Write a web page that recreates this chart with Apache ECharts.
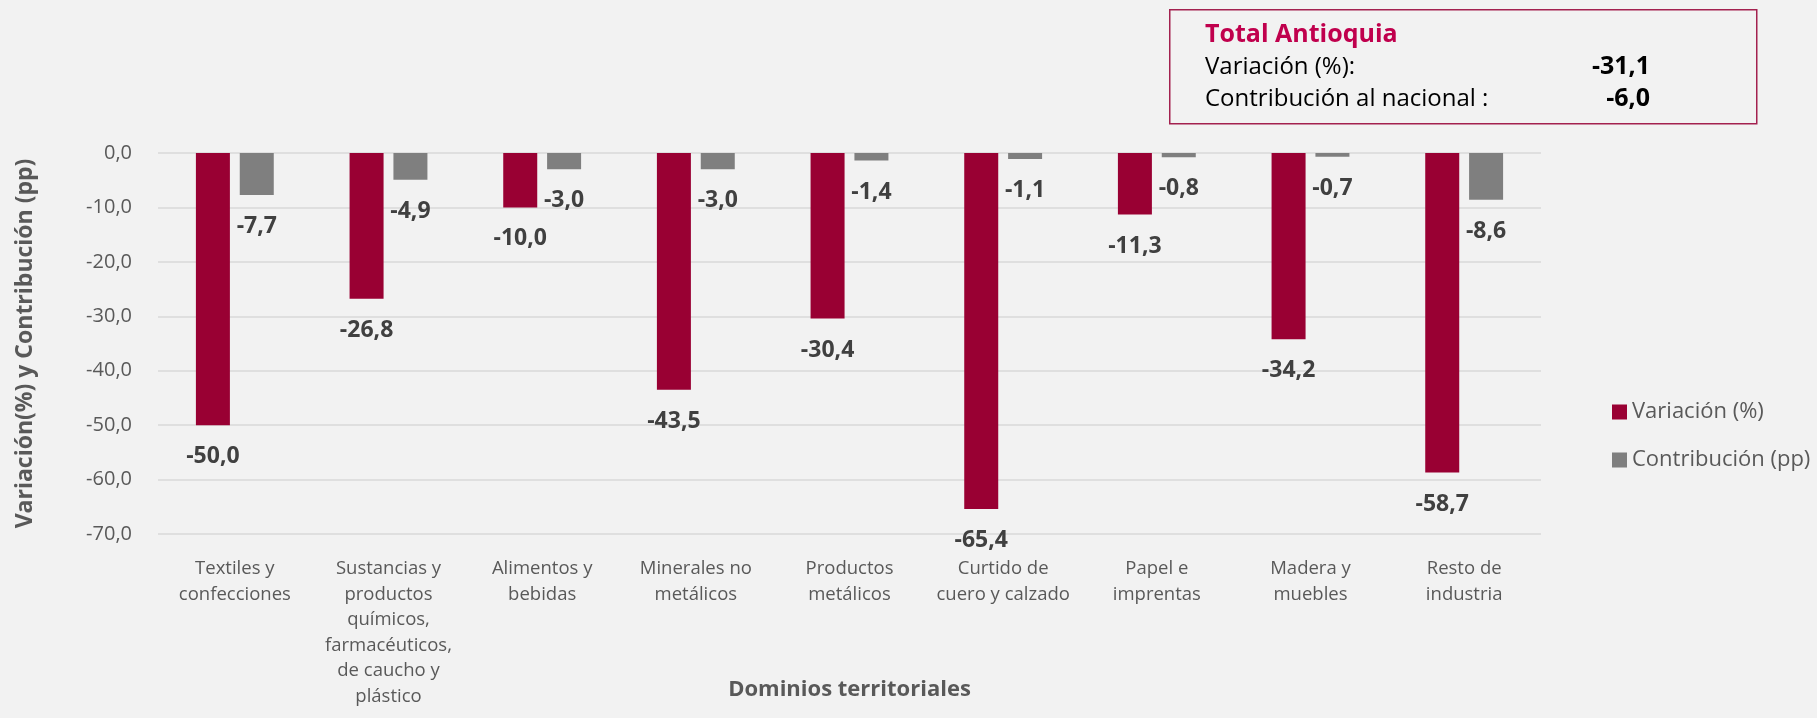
<!DOCTYPE html>
<html>
<head>
<meta charset="utf-8">
<script src="https://cdn.jsdelivr.net/npm/echarts@6/dist/echarts.min.js"></script>
<style>
html,body{margin:0;padding:0;background:#f2f2f2;}
#chart{width:1817px;height:718px;}
</style>
</head>
<body>
<div id="chart"></div>
<script>
const categories = [
  'Textiles y\nconfecciones',
  'Sustancias y\nproductos\nquímicos,\nfarmacéuticos,\nde caucho y\nplástico',
  'Alimentos y\nbebidas',
  'Minerales no\nmetálicos',
  'Productos\nmetálicos',
  'Curtido de\ncuero y calzado',
  'Papel e\nimprentas',
  'Madera y\nmuebles',
  'Resto de\nindustria'
];
const variacion = [-50.0, -26.8, -10.0, -43.5, -30.4, -65.4, -11.3, -34.2, -58.7];
const contribucion = [-7.7, -4.9, -3.0, -3.0, -1.4, -1.1, -0.8, -0.7, -8.6];
const seriesNames = ['Variación (%)', 'Contribución (pp)'];
const totalTitle = 'Total Antioquia';
const totalLabels = ['Variación (%):', 'Contribución al nacional :'];
const totalValues = [-31.1, -6.0];

const fmt = v => v.toFixed(1).replace('.', ',');
const FONT = '"Open Sans", "Noto Sans", sans-serif';

const chart = echarts.init(document.getElementById('chart'));
const labelStyle = {
  show: true, position: 'bottom', distance: 20,
  formatter: p => fmt(p.value),
  fontFamily: FONT, fontSize: 23, fontWeight: 'bold', color: '#404040'
};
chart.setOption({
  backgroundColor: '#f2f2f2',
  animation: false,
  textStyle: {fontFamily: FONT},
  grid: {left: 158, right: 276, top: 153, bottom: 184, outerBoundsMode: 'none', containLabel: false},
  legend: {
    orient: 'vertical', left: 1607, top: 396, itemGap: 26,
    itemWidth: 15, itemHeight: 15, icon: 'rect',
    textStyle: {fontFamily: FONT, fontSize: 22, color: '#595959'},
    data: seriesNames
  },
  xAxis: {
    type: 'category', data: categories, position: 'bottom',
    axisLine: {show: false}, axisTick: {show: false},
    axisLabel: {interval: 0, margin: 22, fontFamily: FONT, fontSize: 18.5, color: '#595959', lineHeight: 25.6, verticalAlign: 'top'},
    name: 'Dominios territoriales', nameLocation: 'middle', nameGap: 145, nameMoveOverlap: false,
    nameTextStyle: {fontFamily: FONT, fontSize: 22, fontWeight: 'bold', color: '#595959', verticalAlign: 'top'}
  },
  yAxis: {
    type: 'value', min: -70, max: 0, interval: 10,
    axisLine: {show: false}, axisTick: {show: false},
    splitLine: {lineStyle: {color: '#d9d9d9', width: 1.5}},
    axisLabel: {formatter: v => fmt(v), margin: 26, fontFamily: FONT, fontSize: 20, color: '#595959'},
    name: 'Variación(%) y Contribución (pp)', nameLocation: 'middle', nameGap: 121, nameMoveOverlap: false,
    nameTextStyle: {fontFamily: FONT, fontSize: 23, fontWeight: 'bold', color: '#595959'}
  },
  series: [
    {name: seriesNames[0], type: 'bar', data: variacion, barWidth: 34, barGap: '29%',
     itemStyle: {color: '#990033'}, label: labelStyle},
    {name: seriesNames[1], type: 'bar', data: contribucion, barWidth: 34,
     itemStyle: {color: '#7f7f7f'}, label: labelStyle}
  ],
  graphic: [
    {type: 'rect', left: 1169, top: 9, shape: {width: 587, height: 114},
     style: {fill: 'transparent', stroke: '#a3214f', lineWidth: 1.5}},
    {type: 'text', x: 1205, y: 35, style: {text: totalTitle, font: 'bold 25px ' + FONT, fill: '#c0004d', verticalAlign: 'middle'}},
    {type: 'text', x: 1205, y: 67, style: {text: totalLabels[0], font: '24px ' + FONT, fill: '#000', verticalAlign: 'middle'}},
    {type: 'text', x: 1205, y: 99, style: {text: totalLabels[1], font: '24px ' + FONT, fill: '#000', verticalAlign: 'middle'}},
    {type: 'text', x: 1650, y: 67, style: {text: fmt(totalValues[0]), font: 'bold 25px ' + FONT, fill: '#000', align: 'right', verticalAlign: 'middle'}},
    {type: 'text', x: 1650, y: 99, style: {text: fmt(totalValues[1]), font: 'bold 25px ' + FONT, fill: '#000', align: 'right', verticalAlign: 'middle'}}
  ]
});
</script>
</body>
</html>
